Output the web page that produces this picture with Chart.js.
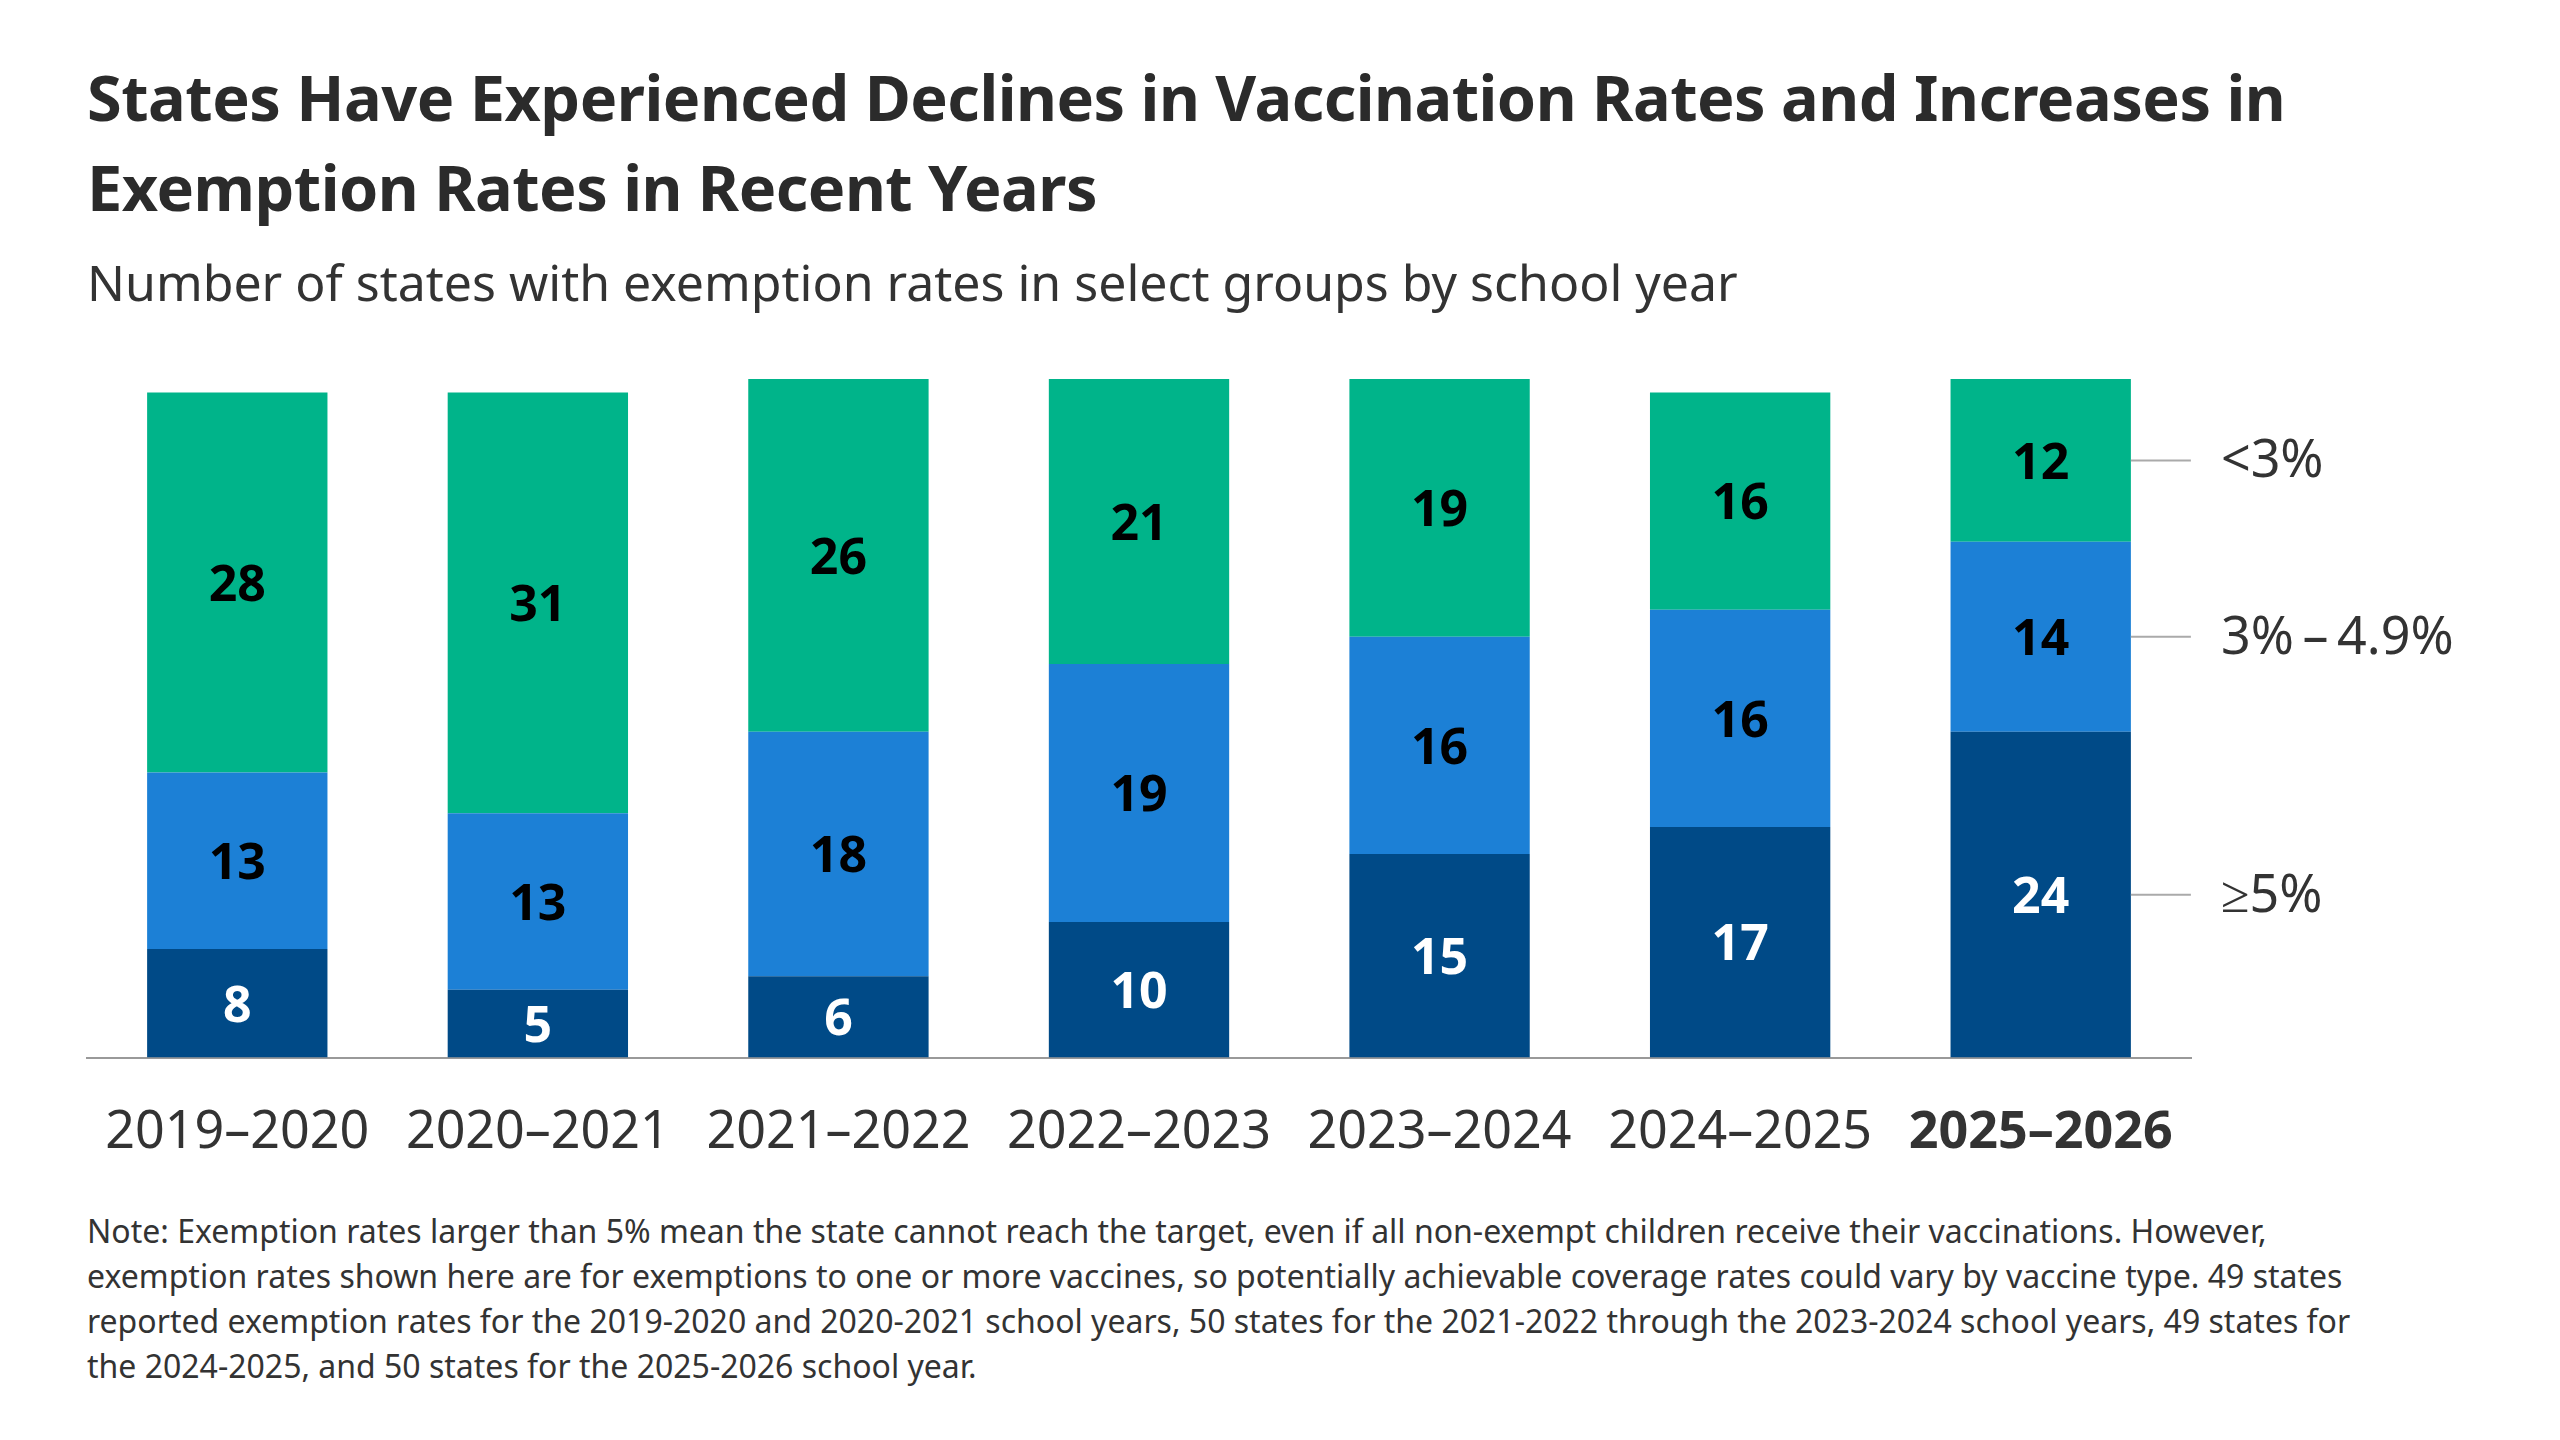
<!DOCTYPE html>
<html>
<head>
<meta charset="utf-8">
<script src="https://cdn.jsdelivr.net/npm/chart.js@4"></script>
<style>
  body { margin:0; width:2560px; height:1440px; background:#fff; font-family:"Noto Sans", sans-serif; position:relative; overflow:hidden; }
  #title { position:absolute; left:87px; top:52px; width:2420px; font-size:63px; font-weight:700; color:#2b2b2b; line-height:90px; letter-spacing:-0.5px; }
  #sub { position:absolute; left:87px; top:248px; font-size:50px; color:#333; }
  #note { position:absolute; left:87px; top:1208px; width:2300px; font-size:32px; color:#333; line-height:45px; }
  #wrap { position:absolute; left:0; top:0; width:2560px; height:1200px; }
</style>
</head>
<body>
<div id="title">States Have Experienced Declines in Vaccination Rates and Increases in Exemption Rates in Recent Years</div>
<div id="sub">Number of states with exemption rates in select groups by school year</div>
<div id="wrap"><canvas id="myChart"></canvas></div>
<div id="note">Note: Exemption rates larger than 5% mean the state cannot reach the target, even if all non-exempt children receive their vaccinations. However, exemption rates shown here are for exemptions to one or more vaccines, so potentially achievable coverage rates could vary by vaccine type. 49 states reported exemption rates for the 2019-2020 and 2020-2021 school years, 50 states for the 2021-2022 through the 2023-2024 school years, 49 states for the 2024-2025, and 50 states for the 2025-2026 school year.</div>
<script>
var years = ['2019–2020','2020–2021','2021–2022','2022–2023','2023–2024','2024–2025','2025–2026']
var high = [8,5,6,10,15,17,24]      // >=5%
var mid = [13,13,18,19,16,16,14]    // 3%-4.9%
var low = [28,31,26,21,19,16,12]    // <3%
var groupNames = ['≥5%','3%\u2009–\u20094.9%','<3%']

// value labels inside each segment
var segLabels = {
  id: 'segLabels',
  afterDatasetsDraw(chart){
    let ctx = chart.ctx
    ctx.save()
    ctx.font = 'bold 50px "Noto Sans"'
    ctx.textAlign = 'center'
    ctx.textBaseline = 'middle'
    chart.data.datasets.forEach((ds, i) => {
      chart.getDatasetMeta(i).data.forEach((bar, j) => {
        ctx.fillStyle = i == 0 ? '#fff' : '#000'
        ctx.fillText(ds.data[j], bar.x, (bar.y + bar.base)/2 + 4)
      })
    })
    // right side group labels
    let last = years.length - 1
    ctx.font = '52px "Noto Sans"'
    ctx.textAlign = 'left'
    ctx.fillStyle = '#333'
    ctx.strokeStyle = '#aaa'
    ctx.lineWidth = 2
    chart.data.datasets.forEach((ds, i) => {
      let bar = chart.getDatasetMeta(i).data[last]
      let y = (bar.y + bar.base)/2
      ctx.beginPath()
      ctx.moveTo(bar.x + bar.width/2, y)
      ctx.lineTo(bar.x + bar.width/2 + 60, y)
      ctx.stroke()
      ctx.fillText(groupNames[i], bar.x + bar.width/2 + 90, y + 2)
    })
    ctx.restore()
  }
}

var ctx = document.getElementById('myChart')
var myChart = new Chart(ctx, {
  type: 'bar',
  data: {
    labels: years,
    datasets: [
      { label: '≥5%', data: high, backgroundColor: '#004A87' },
      { label: '3%–4.9%', data: mid, backgroundColor: '#1C80D6' },
      { label: '<3%', data: low, backgroundColor: '#00B48A' }
    ]
  },
  plugins: [segLabels],
  options: {
    responsive: true,
    maintainAspectRatio: false,
    animation: false,
    layout: { padding: { top: 379, left: 87, right: 369, bottom: 0 } },
    datasets: { bar: { categoryPercentage: 1, barPercentage: 0.6 } },
    plugins: { legend: { display: false }, tooltip: { enabled: false } },
    scales: {
      x: {
        stacked: true,
        grid: { display: false },
        border: { color: '#999', width: 2 },
        ticks: {
          padding: 36,
          color: '#333',
          font: (c) => ({ family: 'Noto Sans', size: 52, weight: c.index == 6 ? 'bold' : 'normal' })
        }
      },
      y: { stacked: true, min: 0, max: 50, display: false }
    }
  }
})
</script>
</body>
</html>
